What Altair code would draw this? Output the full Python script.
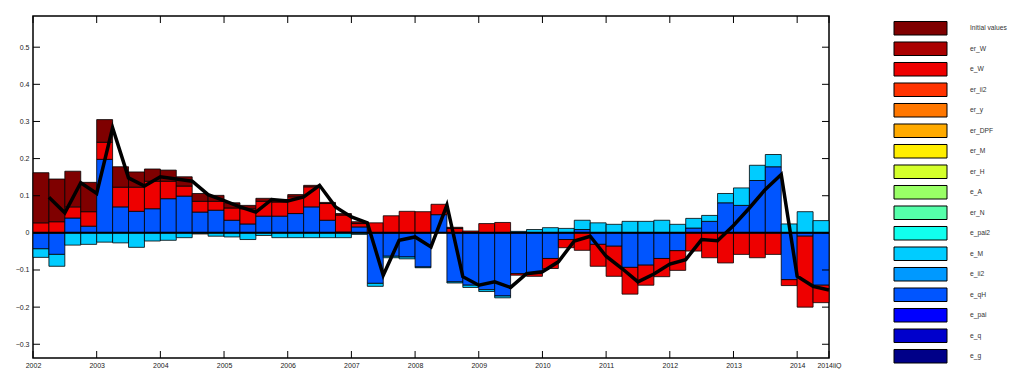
import altair as alt
import pandas as pd

# quarter index 0 = 2002Q1 ... 49 = 2014Q2
quarters = list(range(50))

init_vals = [0.135, 0.115, 0.096, 0.079, 0.061, 0.055, 0.041, 0.033, 0.030, 0.025,
             0.021, 0.016, 0.014, 0.009, 0.008, 0.007, 0.006, 0.004, 0.003, 0.004,
             0.005, 0.0, 0.0, 0.0, 0.0, 0.0, 0.003, 0.0, 0.0, 0.0,
             0.0, 0.0, 0.0, 0.0, 0.0, 0.0, 0.0, 0.0, 0.0, 0.0,
             0.0, 0.0, 0.0, 0.0, 0.0, 0.0, 0.0, 0.0, 0.0, 0.0]
e_W_vals = [0.027, 0.030, 0.030, 0.039, 0.046, 0.053, 0.065, 0.074, 0.047, 0.027,
            0.029, 0.024, 0.033, 0.041, 0.040, 0.038, 0.045, 0.054, 0.045, 0.046,
            0.009, 0.027, 0.046, 0.058, 0.057, 0.028, 0.012, 0.005, 0.025, 0.028,
            -0.004, -0.007, -0.027, -0.022, -0.047, -0.059, -0.081, -0.072, -0.054, -0.049,
            -0.053, -0.049, -0.067, -0.081, -0.058, -0.067, -0.058, -0.016, -0.191, -0.047]
e_M_vals = [-0.023, -0.032, -0.033, -0.031, -0.025, -0.027, -0.039, -0.022, -0.020, -0.013,
            -0.003, -0.009, -0.011, -0.018, -0.007, -0.013, -0.013, -0.013, -0.013, -0.013,
            -0.004, -0.008, -0.004, -0.005, -0.002, 0.0, -0.003, -0.006, -0.005, -0.005,
            0.004, 0.009, 0.014, 0.012, 0.025, 0.027, 0.023, 0.031, 0.031, 0.034,
            0.023, 0.026, 0.016, 0.025, 0.047, 0.041, 0.033, 0.024, 0.057, 0.033]
e_qH_vals = [-0.043, -0.058, 0.040, 0.018, 0.198, 0.070, 0.058, 0.065, 0.092, 0.099,
             0.056, 0.061, 0.034, 0.024, 0.045, 0.045, 0.052, 0.070, 0.034, 0.002,
             0.016, -0.136, -0.063, -0.065, -0.092, 0.049, -0.132, -0.141, -0.153, -0.170,
             -0.110, -0.110, -0.069, -0.018, 0.009, -0.031, -0.036, -0.093, -0.087, -0.069,
             -0.048, 0.013, 0.031, 0.081, 0.074, 0.141, 0.178, -0.126, -0.009, -0.141]
total_vals = [0.096, 0.054, 0.135, 0.106, 0.283, 0.148, 0.126, 0.151, 0.145, 0.139,
              0.103, 0.087, 0.070, 0.056, 0.090, 0.086, 0.097, 0.128, 0.070, 0.043,
              0.027, -0.114, -0.020, -0.011, -0.038, 0.075, -0.118, -0.141, -0.132, -0.147,
              -0.110, -0.105, -0.078, -0.022, -0.009, -0.063, -0.096, -0.132, -0.111, -0.084,
              -0.072, -0.018, -0.021, 0.020, 0.067, 0.117, 0.157, -0.117, -0.144, -0.154]

legend_names = ["Initial values", "er_W", "e_W", "er_ii2", "er_y", "er_DPF", "er_M", "er_H",
                "e_A", "er_N", "e_pai2", "e_M", "e_ii2", "e_qH", "e_pai", "e_q", "e_g"]
legend_colors = ["#7F0000", "#AA0000", "#EE0000", "#FF3300", "#FF7700", "#FFAA00", "#FFEE00",
                 "#D4FF2B", "#99FF66", "#55FFAA", "#11FFEE", "#00CCFF", "#0099FF", "#0055FF",
                 "#0000FF", "#0000CC", "#000088"]

x_tick_vals = [0, 4, 8, 12, 16, 20, 24, 28, 32, 36, 40, 44, 48, 50]
x_tick_labels = ["2002", "2003", "2004", "2005", "2006", "2007", "2008", "2009", "2010",
                 "2011", "2012", "2013", "2014", "2014iiQ"]
y_tick_vals = [-0.3, -0.2, -0.1, 0.0, 0.1, 0.2, 0.3, 0.4, 0.5]

W, H = 796, 342
FONT = "Liberation Sans"

# stacking order from zero outward
stack_order = [("e_qH", e_qH_vals), ("e_M", e_M_vals), ("e_W", e_W_vals), ("Initial values", init_vals)]
rows = []
for i, q in enumerate(quarters):
    pos, neg = 0.0, 0.0
    for name, vals in stack_order:
        v = vals[i]
        if v == 0:
            continue
        if v > 0:
            y0, y1 = pos, pos + v
            pos = y1
        else:
            y0, y1 = neg, neg + v
            neg = y1
        rows.append({"x0": q, "x1": q + 1, "y0": y0, "y1": y1, "comp": name})
df_bars = pd.DataFrame(rows)
df_line = pd.DataFrame({"xe": [q + 1 for q in quarters], "total": total_vals})

xscale = alt.Scale(domain=[0, 50], nice=False, zero=False)
yscale = alt.Scale(domain=[-0.337, 0.584], nice=False, zero=False)
cscale = alt.Scale(domain=legend_names, range=legend_colors)

label_expr = ""
for v, lab in zip(x_tick_vals, x_tick_labels):
    label_expr += f"datum.value == {v} ? '{lab}' : "
label_expr += "''"

xaxis = alt.Axis(values=x_tick_vals, labelExpr=label_expr, ticks=False, domain=False, grid=False,
                 title=None, labelFlush=False, labelOverlap=False, labelPadding=3,
                 labelFontSize=7, labelFont=FONT, labelColor="#222")
yaxis = alt.Axis(values=y_tick_vals, format=".1~f", ticks=False, domain=False, grid=False,
                 title=None, labelPadding=4, labelFontSize=7, labelFont=FONT, labelColor="#222",
                 labelOverlap=False)

bars = alt.Chart(df_bars).mark_rect(stroke="black", strokeWidth=0.8).encode(
    x=alt.X("x0:Q", scale=xscale, axis=xaxis),
    x2="x1:Q",
    y=alt.Y("y0:Q", scale=yscale, axis=yaxis),
    y2="y1:Q",
    color=alt.Color("comp:N", scale=cscale, legend=None),
)

zero_rule = alt.Chart(pd.DataFrame({"y": [0.0]})).mark_rule(color="black", strokeWidth=2).encode(
    y=alt.Y("y:Q", scale=yscale, axis=yaxis))

line = alt.Chart(df_line).mark_line(color="black", strokeWidth=3.5).encode(
    x=alt.X("xe:Q", scale=xscale, axis=xaxis),
    y=alt.Y("total:Q", scale=yscale, axis=yaxis))

df_yt = pd.DataFrame({"v": y_tick_vals})
df_xt = pd.DataFrame({"v": x_tick_vals})
ytick_left = alt.Chart(df_yt).mark_rule(color="black", strokeWidth=1).encode(
    y=alt.Y("v:Q", scale=yscale, axis=yaxis), x=alt.value(0), x2=alt.value(7))
ytick_right = alt.Chart(df_yt).mark_rule(color="black", strokeWidth=1).encode(
    y=alt.Y("v:Q", scale=yscale, axis=yaxis), x=alt.value(W - 7), x2=alt.value(W))
xtick_bottom = alt.Chart(df_xt).mark_rule(color="black", strokeWidth=1).encode(
    x=alt.X("v:Q", scale=xscale, axis=xaxis), y=alt.value(H - 7), y2=alt.value(H))
xtick_top = alt.Chart(df_xt).mark_rule(color="black", strokeWidth=1).encode(
    x=alt.X("v:Q", scale=xscale, axis=xaxis), y=alt.value(0), y2=alt.value(7))

main = alt.layer(bars, zero_rule, line, ytick_left, ytick_right, xtick_bottom, xtick_top).properties(
    width=W, height=H, view=alt.ViewBackground(stroke="black", strokeWidth=1.5))

df_leg = pd.DataFrame({"name": legend_names})
leg_y = alt.Y("name:N", sort=legend_names, axis=None,
              scale=alt.Scale(paddingInner=0.34, paddingOuter=0.17))
leg_rect = alt.Chart(df_leg).mark_rect(stroke="black", strokeWidth=1, yOffset=2).encode(
    y=leg_y, x=alt.value(0), x2=alt.value(53),
    color=alt.Color("name:N", scale=cscale, legend=None))
leg_text = alt.Chart(df_leg).mark_text(align="left", baseline="middle", fontSize=6.7, font=FONT,
                                       color="#333", yOffset=2).encode(
    y=leg_y, x=alt.value(76), text="name:N")
legend = alt.layer(leg_rect, leg_text).properties(
    width=100, height=348.5, view=alt.ViewBackground(stroke="transparent"))

chart = alt.HConcatChart(hconcat=[main, legend], spacing=65, bounds="flush").properties(
    padding={"left": 6, "top": 6, "right": 0, "bottom": 0})

chart.save("out.html", embed_options={"renderer": "svg", "actions": False})
